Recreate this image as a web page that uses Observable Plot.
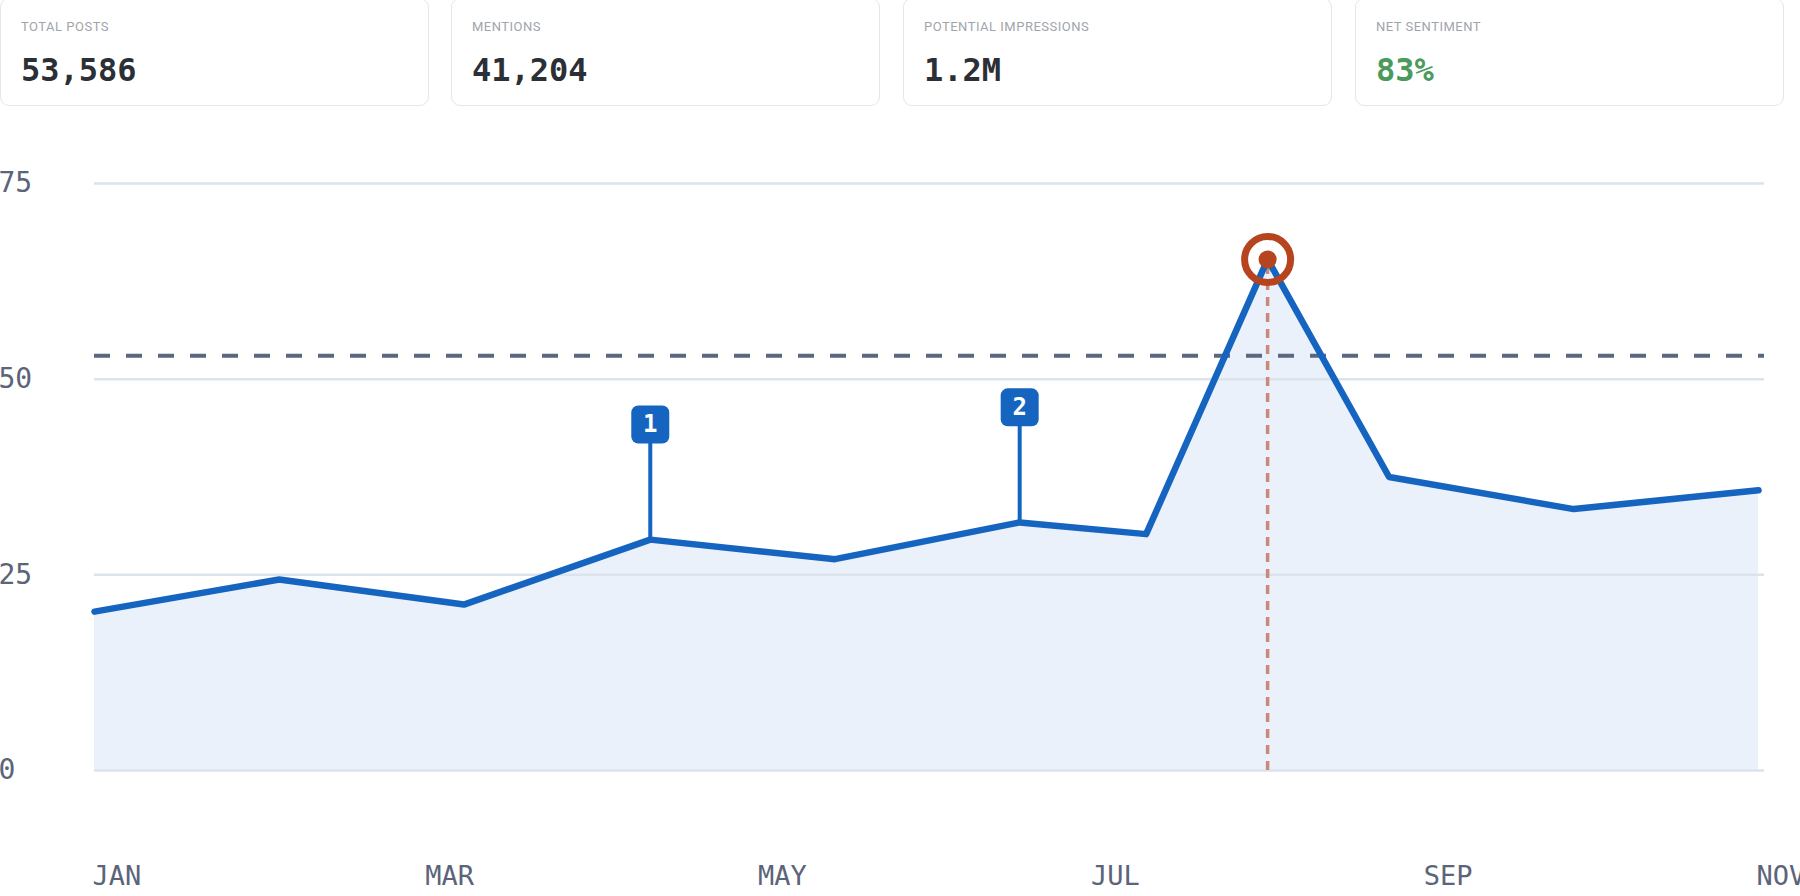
<!DOCTYPE html>
<html>
<head>
<meta charset="utf-8">
<script src="https://cdn.jsdelivr.net/npm/d3@7"></script>
<script src="https://cdn.jsdelivr.net/npm/@observablehq/plot@0.6"></script>
<style>
  html, body { margin: 0; padding: 0; background: #ffffff; width: 1800px; height: 896px; overflow: hidden; position: relative; }
  .card { position: absolute; top: -2px; height: 108px; box-sizing: border-box; border: 1.5px solid #e3e6ea; border-radius: 9px; background: #fff; }
  .card .lab { position: absolute; left: 20px; top: 19.5px; font-family: Roboto, "Noto Sans", sans-serif; font-size: 13px; line-height: 16px; letter-spacing: 0.5px; color: #a0a5ac; white-space: nowrap; }
  .card .val { position: absolute; left: 20px; top: 55px; font-family: "DejaVu Sans Mono", monospace; font-weight: bold; font-size: 32px; line-height: 32px; color: #2b2f36; white-space: nowrap; }
  #chart { position: absolute; left: 0; top: 120px; }
</style>
</head>
<body>
<div id="cards"></div>
<div id="chart"></div>
<script>
// KPI cards
const kpiLabels = ["TOTAL POSTS", "MENTIONS", "POTENTIAL IMPRESSIONS", "NET SENTIMENT"];
const kpiValues = ["53,586", "41,204", "1.2M", "83%"];
const kpiColors = ["#2b2f36", "#2b2f36", "#2b2f36", "#4a9a5c"];

// Series (x in months since JAN)
const monthPos = [0, 1.11, 2.22, 3.34, 4.45, 5.56, 6.32, 7.05, 7.78, 8.89, 10];
const values   = [20.3, 24.4, 21.2, 29.5, 27.0, 31.7, 30.2, 65.3, 37.5, 33.4, 35.8];

// Ticks
const xTickPos = [0, 2, 4, 6, 8, 10];
const xTickLabels = ["JAN", "MAR", "MAY", "JUL", "SEP", "NOV"];
const yTicks = [0, 25, 50, 75];

// Annotations
const average = 53;
const badgeIndex = [3, 5];
const badgeText = ["1", "2"];
const peakIndex = 7;

// cards
const cardLefts = [0, 451, 903, 1355];
const cards = document.getElementById("cards");
kpiLabels.forEach((l, i) => {
  const c = document.createElement("div");
  c.className = "card";
  c.style.left = cardLefts[i] + "px";
  c.style.width = "429px";
  c.innerHTML = `<div class="lab">${l}</div><div class="val" style="color:${kpiColors[i]}">${kpiValues[i]}</div>`;
  cards.appendChild(c);
});

const data = monthPos.map((m, i) => ({m, v: values[i]}));
const badges = badgeIndex.map((k, i) => ({m: monthPos[k], v: values[k], t: badgeText[i]}));
const peak = [{m: monthPos[peakIndex], v: values[peakIndex]}];
const badgeLift = 14.7;

const roundedSquare = {
  draw(context, size) {
    const r = Math.sqrt(size / Math.PI);
    const c = 7;
    context.moveTo(-r + c, -r);
    context.lineTo(r - c, -r);
    context.arcTo(r, -r, r, -r + c, c);
    context.lineTo(r, r - c);
    context.arcTo(r, r, r - c, r, c);
    context.lineTo(-r + c, r);
    context.arcTo(-r, r, -r, r - c, c);
    context.lineTo(-r, -r + c);
    context.arcTo(-r, -r, -r + c, -r, c);
    context.closePath();
  }
};

const mono = "DejaVu Sans Mono, monospace";
const axisColor = "#5b6479";

const chart = Plot.plot({
  width: 1800,
  height: 776,
  marginLeft: 94,
  marginRight: 36,
  marginTop: 63,
  marginBottom: 126,
  x: {domain: [0, 10], range: [94, 1758]},
  y: {domain: [0, 75], range: [650, 63]},
  style: {background: "transparent"},
  marks: [
    Plot.areaY(data, {x: "m", y: "v", fill: "#eaf1fb"}),
    Plot.gridY({ticks: yTicks, stroke: "#dce3ed", strokeOpacity: 1, strokeWidth: 2.5}),
    Plot.axisY({ticks: yTicks, tickSize: 0, tickPadding: 96, textAnchor: "start", fontSize: 28, fontFamily: mono, fill: axisColor, label: null}),
    Plot.axisX({ticks: xTickPos, tickFormat: d => xTickLabels[xTickPos.indexOf(d)], tickSize: 0, tickPadding: 95, textAnchor: "start", dx: -2, fontSize: 27, fontFamily: mono, fill: axisColor, label: null}),
    Plot.ruleY([average], {stroke: "#5a6780", strokeWidth: 4, strokeDasharray: "16,16"}),
    Plot.ruleX(peak, {x: "m", y1: 0, y2: "v", stroke: "#c98a7a", strokeWidth: 3.5, strokeDasharray: "9,7"}),
    Plot.ruleX(badges, {x: "m", y1: "v", y2: d => d.v + badgeLift, stroke: "#1565c0", strokeWidth: 4}),
    Plot.lineY(data, {x: "m", y: "v", stroke: "#1565c0", strokeWidth: 6.5, strokeLinejoin: "round", strokeLinecap: "round"}),
    Plot.dot(badges, {x: "m", y: d => d.v + badgeLift, symbol: roundedSquare, r: 19, fill: "#1565c0", stroke: "none"}),
    Plot.text(badges, {x: "m", y: d => d.v + badgeLift, text: "t", fill: "white", fontSize: 24, fontWeight: "bold", fontFamily: mono}),
    Plot.dot(peak, {x: "m", y: "v", r: 23, stroke: "#b5441f", strokeWidth: 7, fill: "none"}),
    Plot.dot(peak, {x: "m", y: "v", r: 9, fill: "#b5441f", stroke: "none"})
  ]
});
document.getElementById("chart").appendChild(chart);
</script>
</body>
</html>
